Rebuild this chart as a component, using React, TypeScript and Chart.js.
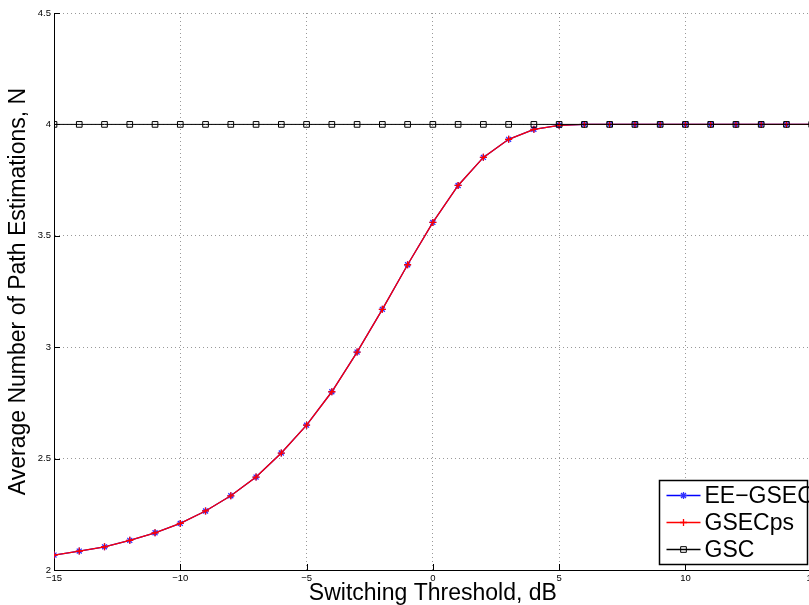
import React, { useEffect, useRef } from 'react';
import { Chart, registerables } from 'chart.js';
import { drawPoint } from 'chart.js/helpers';

Chart.register(...registerables);

const thresholds = [-15, -14, -13, -12, -11, -10, -9, -8, -7, -6, -5, -4, -3, -2, -1, 0, 1, 2, 3, 4, 5, 6, 7, 8, 9, 10, 11, 12, 13, 14, 15];
const eeGsec = [2.067, 2.085, 2.104, 2.133, 2.167, 2.209, 2.265, 2.333, 2.417, 2.525, 2.65, 2.8, 2.978, 3.17, 3.37, 3.56, 3.726, 3.852, 3.933, 3.978, 3.996, 4.0, 4.0, 4.0, 4.0, 4.0, 4.0, 4.0, 4.0, 4.0, 4.0];
const gsecPs = [2.067, 2.085, 2.104, 2.133, 2.167, 2.209, 2.265, 2.333, 2.417, 2.525, 2.65, 2.8, 2.978, 3.17, 3.37, 3.56, 3.726, 3.852, 3.933, 3.978, 3.996, 4.0, 4.0, 4.0, 4.0, 4.0, 4.0, 4.0, 4.0, 4.0, 4.0];
const gsc = [4, 4, 4, 4, 4, 4, 4, 4, 4, 4, 4, 4, 4, 4, 4, 4, 4, 4, 4, 4, 4, 4, 4, 4, 4, 4, 4, 4, 4, 4, 4];
const xTickValues = [-15, -10, -5, 0, 5, 10, 15];
const yTickValues = [2, 2.5, 3, 3.5, 4, 4.5];
const seriesNames = ['EE\u2212GSEC', 'GSECps', 'GSC'];
const xTitle = 'Switching Threshold, dB';
const yTitle = 'Average Number of Path Estimations, N';

const FONT = '"Liberation Sans", Arial, Helvetica, sans-serif';

const toPoints = (ys: number[]) => thresholds.map((x, i) => ({ x, y: ys[i] }));

const innerTicksPlugin = {
  id: 'innerTicks',
  afterDatasetsDraw(chart: any) {
    const { ctx, chartArea, scales } = chart;
    ctx.save();
    ctx.strokeStyle = '#000';
    ctx.lineWidth = 1;
    ctx.beginPath();
    yTickValues.forEach((v) => {
      const y = Math.round(scales.y.getPixelForValue(v)) + 0.5;
      ctx.moveTo(chartArea.left, y);
      ctx.lineTo(chartArea.left + 6, y);
    });
    xTickValues.forEach((v) => {
      const x = Math.round(scales.x.getPixelForValue(v)) + 0.5;
      ctx.moveTo(x, chartArea.bottom);
      ctx.lineTo(x, chartArea.bottom - 6);
    });
    ctx.stroke();
    ctx.restore();
  },
};

const legendPlugin = {
  id: 'insetLegend',
  afterDraw(chart: any) {
    const { ctx, chartArea } = chart;
    const left = Math.round(chartArea.right - 153) + 0.5;
    const right = Math.round(chartArea.right - 5) + 0.5;
    const bottom = Math.round(chartArea.bottom - 6) + 0.5;
    const top = bottom - 84;
    ctx.save();
    ctx.fillStyle = '#fff';
    ctx.fillRect(left, top, right - left, bottom - top);
    ctx.strokeStyle = '#000';
    ctx.lineWidth = 1.5;
    ctx.strokeRect(left, top, right - left, bottom - top);
    seriesNames.forEach((name, i) => {
      const ds = chart.data.datasets.find((d: any) => d.label === name);
      const y = top + 15 + i * 27;
      ctx.strokeStyle = ds.borderColor;
      ctx.lineWidth = 1.3;
      ctx.beginPath();
      ctx.moveTo(left + 7, y);
      ctx.lineTo(left + 41, y);
      ctx.stroke();
      ctx.strokeStyle = ds.pointBorderColor;
      ctx.fillStyle = ds.pointBackgroundColor;
      ctx.lineWidth = ds.pointBorderWidth;
      drawPoint(ctx, { pointStyle: ds.pointStyle, radius: ds.pointRadius, borderWidth: ds.pointBorderWidth, rotation: 0 } as any, left + 24, y);
      ctx.fillStyle = '#000';
      ctx.font = `23px ${FONT}`;
      ctx.textBaseline = 'middle';
      ctx.textAlign = 'left';
      ctx.fillText(name, left + 45, y + 1);
    });
    ctx.restore();
  },
};

export default function App() {
  const canvasRef = useRef<HTMLCanvasElement | null>(null);

  useEffect(() => {
    if (!canvasRef.current) return;
    const chart = new Chart(canvasRef.current, {
      type: 'line',
      data: {
        datasets: [
          {
            label: seriesNames[0],
            data: toPoints(eeGsec),
            borderColor: '#0000ff',
            borderWidth: 1.3,
            pointStyle: 'star',
            pointRadius: 3.5,
            pointBorderWidth: 1.3,
            pointBorderColor: '#3030ff',
            pointBackgroundColor: '#3030ff',
            order: 2,
          },
          {
            label: seriesNames[1],
            data: toPoints(gsecPs),
            borderColor: '#ff0000',
            borderWidth: 1.3,
            pointStyle: 'cross',
            pointRadius: 3.5,
            pointBorderWidth: 1.3,
            pointBorderColor: '#ff0000',
            pointBackgroundColor: '#ff0000',
            order: 1,
          },
          {
            label: seriesNames[2],
            data: toPoints(gsc),
            borderColor: '#000000',
            borderWidth: 1,
            pointStyle: 'rect',
            pointRadius: 4,
            pointBorderWidth: 1,
            pointBorderColor: '#000000',
            pointBackgroundColor: 'rgba(255,255,255,0)',
            order: 0,
          },
        ] as any,
      },
      options: {
        animation: false,
        responsive: false,
        maintainAspectRatio: false,
        layout: { padding: { left: 0, right: 8, top: 13, bottom: 0 } },
        plugins: { legend: { display: false }, tooltip: { enabled: false } },
        elements: { line: { tension: 0 } },
        scales: {
          x: {
            type: 'linear',
            min: -15,
            max: 15,
            afterBuildTicks: (scale: any) => {
              scale.ticks = xTickValues.map((v) => ({ value: v }));
            },
            afterFit: (scale: any) => {
              scale.height = 35;
            },
            ticks: {
              font: { family: FONT, size: 9.5 },
              color: '#000',
              padding: 3,
              maxRotation: 0,
              autoSkip: false,
              callback: (v: any) => String(v).replace('-', '\u2212'),
            },
            grid: { color: 'rgba(0,0,0,0.4)', drawTicks: false, lineWidth: 1 },
            border: { display: true, color: '#000', width: 1, dash: [1, 3] },
            title: {
              display: true,
              text: xTitle,
              font: { family: FONT, size: 23 },
              color: '#000',
              padding: { top: 0, bottom: -2 },
            },
          },
          y: {
            type: 'linear',
            min: 2,
            max: 4.5,
            afterBuildTicks: (scale: any) => {
              scale.ticks = yTickValues.map((v) => ({ value: v }));
            },
            afterFit: (scale: any) => {
              scale.width = 54;
            },
            ticks: {
              font: { family: FONT, size: 9.5 },
              color: '#000',
              padding: 3,
              autoSkip: false,
              callback: (v: any) => String(v),
            },
            grid: { color: 'rgba(0,0,0,0.4)', drawTicks: false, lineWidth: 1 },
            border: { display: true, color: '#000', width: 1, dash: [1, 3] },
            title: {
              display: true,
              text: yTitle,
              font: { family: FONT, size: 23 },
              color: '#000',
              padding: { top: 5, bottom: 0 },
            },
          },
        },
      } as any,
      plugins: [innerTicksPlugin, legendPlugin],
    });
    return () => chart.destroy();
  }, []);

  return (
    <div style={{ position: 'fixed', left: 0, top: 0, width: 809, height: 605, overflow: 'hidden', background: '#fff' }}>
      <canvas ref={canvasRef} width={820} height={605} style={{ display: 'block', width: 820, height: 605 }} />
    </div>
  );
}
